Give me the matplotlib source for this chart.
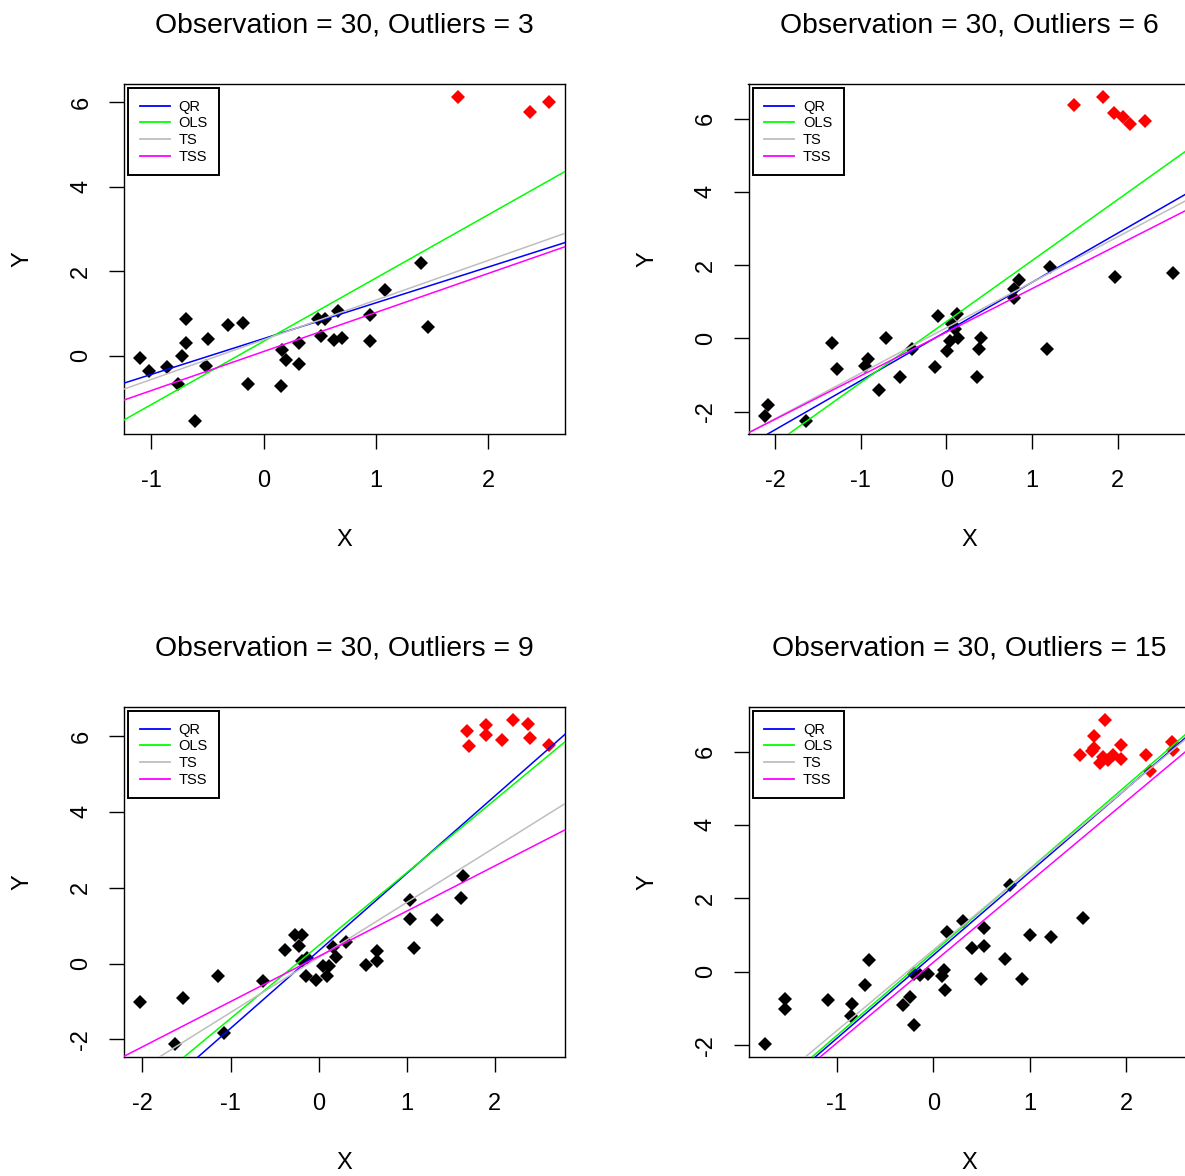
import matplotlib
matplotlib.use("Agg")
import matplotlib.pyplot as plt
import numpy as np

plt.rcParams['font.family'] = ['Liberation Sans', 'DejaVu Sans']

n_obs = 30
n_outliers = [3, 6, 9, 15]
methods = ["QR", "OLS", "TS", "TSS"]
method_colors = ["#0000FF", "#00FF00", "#BEBEBE", "#FF00FF"]

# ---- Panel 1 (3 outliers)
p1_x = [-1.096, -1.021, -0.857, -0.762, -0.729, -0.694, -0.694, -0.613, -0.509, -0.494,
        -0.316, -0.179, -0.134, 0.155, 0.166, 0.199, 0.318, 0.318, 0.482, 0.512,
        0.547, 0.625, 0.661, 0.702, 0.943, 0.943, 1.077, 1.396, 1.464]
p1_y = [-0.05, -0.37, -0.28, -0.67, -0.02, 0.29, 0.87, -1.55, -0.24, 0.38,
        0.73, 0.77, -0.67, -0.72, 0.13, -0.10, 0.29, -0.20, 0.87, 0.46,
        0.86, 0.37, 1.05, 0.42, 0.35, 0.95, 1.56, 2.18, 0.68]
p1_ox = [1.726, 2.372, 2.536]
p1_oy = [6.12, 5.76, 5.99]
p1_coef = {"QR": (0.40, 0.848), "OLS": (0.336, 1.499), "TS": (0.373, 0.94), "TSS": (0.095, 0.925)}

# ---- Panel 2 (6 outliers)
p2_x = [-2.118, -2.079, -1.641, -1.336, -1.270, -0.946, -0.918, -0.789, -0.703, -0.535,
        -0.402, -0.137, -0.098, 0.012, 0.047, 0.066, 0.098, 0.125, 0.137, 0.363,
        0.383, 0.410, 0.793, 0.793, 0.848, 1.172, 1.211, 1.966, 2.649]
p2_y = [-2.11, -1.83, -2.26, -0.14, -0.84, -0.75, -0.57, -1.41, 0.00, -1.05,
        -0.28, -0.79, 0.61, -0.36, -0.07, 0.39, 0.25, 0.67, 0.00, -1.05,
        -0.29, 0.00, 1.11, 1.34, 1.58, -0.29, 1.94, 1.67, 1.77]
p2_ox = [1.497, 1.825, 1.954, 2.059, 2.149, 2.317]
p2_oy = [6.36, 6.59, 6.16, 6.03, 5.86, 5.93]
p2_coef = {"QR": (0.184, 1.342), "OLS": (0.452, 1.666), "TS": (0.285, 1.242), "TSS": (0.164, 1.189)}

# ---- Panel 3 (9 outliers)
p3_x = [-2.024, -1.629, -1.537, -1.142, -1.073, -0.631, -0.377, -0.274, -0.225, -0.186,
        -0.194, -0.129, -0.148, -0.034, 0.049, 0.099, 0.118, 0.163, 0.202, 0.312,
        0.537, 0.658, 0.658, 1.042, 1.042, 1.088, 1.343, 1.613, 1.640]
p3_y = [-1.01, -2.12, -0.90, -0.33, -1.83, -0.45, 0.37, 0.76, 0.46, 0.76,
        0.08, 0.15, -0.33, -0.42, -0.07, -0.33, -0.07, 0.43, 0.17, 0.57,
        -0.03, 0.32, 0.06, 1.68, 1.18, 0.41, 1.14, 1.73, 2.32]
p3_ox = [1.686, 1.705, 1.895, 1.895, 2.078, 2.211, 2.374, 2.401, 2.611]
p3_oy = [6.13, 5.74, 6.29, 6.03, 5.88, 6.42, 6.32, 5.94, 5.76]
p3_coef = {"QR": (0.334, 2.041), "OLS": (0.473, 1.921), "TS": (0.161, 1.45), "TSS": (0.19, 1.192)}

# ---- Panel 4 (15 outliers)
p4_x = [-1.743, -1.535, -1.535, -1.089, -0.854, -0.836, -0.705, -0.664, -0.318, -0.242,
        -0.197, -0.197, -0.138, -0.058, 0.090, 0.108, 0.125, 0.139, 0.311, 0.398,
        0.495, 0.523, 0.529, 0.744, 0.799, 0.917, 1.006, 1.221, 1.550]
p4_y = [-1.97, -0.75, -1.02, -0.77, -1.20, -0.87, -0.36, 0.31, -0.90, -0.69,
        -1.46, -0.07, -0.09, -0.05, -0.12, 0.06, -0.51, 1.08, 1.38, 0.65,
        -0.21, 0.70, 1.20, 0.35, 2.37, -0.21, 1.00, 0.95, 1.47]
p4_ox = [1.781, 1.664, 1.646, 1.940, 1.515, 1.722, 1.809, 1.861, 1.940, 2.206,
         2.241, 2.466, 2.483, 1.760, 1.660]
p4_oy = [6.86, 6.42, 6.02, 6.18, 5.91, 5.70, 5.77, 5.91, 5.80, 5.91,
         5.48, 6.27, 6.04, 5.84, 6.10]
p4_coef = {"QR": (0.45, 2.27), "OLS": (0.53, 2.273), "TS": (0.59, 2.2), "TSS": (0.253, 2.2)}

panels = [
    (p1_x, p1_y, p1_ox, p1_oy, p1_coef),
    (p2_x, p2_y, p2_ox, p2_oy, p2_coef),
    (p3_x, p3_y, p3_ox, p3_oy, p3_coef),
    (p4_x, p4_y, p4_ox, p4_oy, p4_coef),
]

W, H = 1185, 1176
fig = plt.figure(figsize=(W / 100, H / 100), dpi=100)

# axes boxes in pixels: (left, top)
boxes = [(124, 84), (748.5, 84), (124, 707), (748.5, 707)]
aw, ah = 441, 350

tick_fs = 17
title_fs = 20.4

for (bx, by), (x, y, ox, oy, coef), k in zip(boxes, panels, n_outliers):
    ax = fig.add_axes([bx / W, (H - by - ah) / H, aw / W, ah / H])
    ax.plot(x, y, linestyle="none", marker="D", ms=7, mew=0, color="black", zorder=2)
    ax.plot(ox, oy, linestyle="none", marker="D", ms=7, mew=0, color="#FF0000", zorder=2)
    for m, c in zip(methods, method_colors):
        b0, b1 = coef[m]
        ax.axline((0, b0), slope=b1, color=c, lw=1.1, label=m, zorder=3)

    allx = np.array(list(x) + list(ox))
    ally = np.array(list(y) + list(oy))
    rx = allx.max() - allx.min()
    ry = ally.max() - ally.min()
    ax.set_xlim(allx.min() - 0.04 * rx, allx.max() + 0.04 * rx)
    ax.set_ylim(ally.min() - 0.04 * ry, ally.max() + 0.04 * ry)

    xt = [t for t in range(-3, 4) if ax.get_xlim()[0] <= t <= ax.get_xlim()[1]]
    yt = [t for t in range(-4, 9, 2) if ax.get_ylim()[0] <= t <= ax.get_ylim()[1]]
    ax.set_xticks(xt)
    ax.set_yticks(yt)
    ax.set_xticklabels([str(t) for t in xt], fontsize=tick_fs)
    ax.set_yticklabels([str(t) for t in yt], fontsize=tick_fs, rotation=90, va="center")
    ax.tick_params(direction="out", length=10.8, width=1.0, color="black")
    ax.tick_params(axis="x", pad=15)
    ax.tick_params(axis="y", pad=12)
    for s in ax.spines.values():
        s.set_linewidth(1.0)
        s.set_color("black")

    ax.set_xlabel("X", fontsize=tick_fs)
    ax.set_ylabel("Y", fontsize=tick_fs)
    ax.xaxis.set_label_coords(0.5, -0.272)
    ax.yaxis.set_label_coords(-0.205, 0.5)

    ax.text(0.5, 1.147, f"Observation = {n_obs}, Outliers = {k}", transform=ax.transAxes,
            ha="center", va="baseline", fontsize=title_fs)

    leg = ax.legend(loc="upper left", bbox_to_anchor=(0, 1), fontsize=10.5,
                    fancybox=False, framealpha=1, edgecolor="black",
                    borderaxespad=0.28, borderpad=0.8, labelspacing=0.18,
                    handlelength=2.05, handletextpad=0.6)
    leg.get_frame().set_linewidth(1.4)
    for ln in leg.get_lines():
        ln.set_linewidth(1.3)

fig.savefig("out.png", dpi=100)
